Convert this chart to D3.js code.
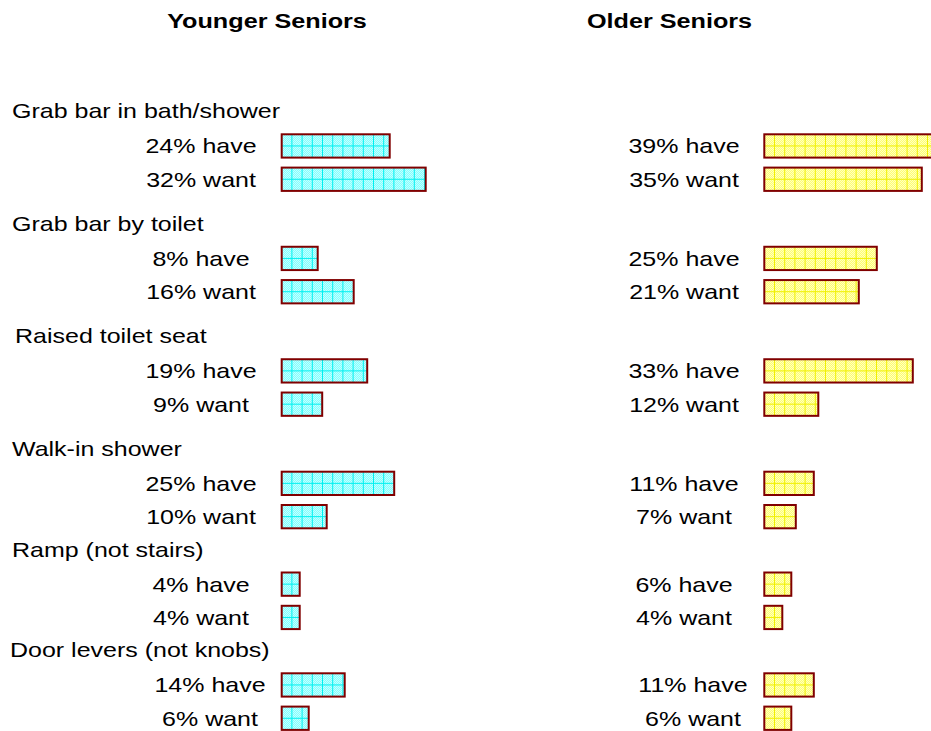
<!DOCTYPE html>
<html>
<head>
<meta charset="utf-8">
<script src="https://cdn.jsdelivr.net/npm/d3@7"></script>
<style>
  html, body { margin: 0; padding: 0; background: #fff; }
  svg { display: block; }
  text { font-family: "Liberation Sans", Arial, sans-serif; fill: #000; }
</style>
</head>
<body>
<svg id="chart" width="931" height="731"></svg>
<script>
// ---- data ----
const categories = [
  "Grab bar in bath/shower",
  "Grab bar by toilet",
  "Raised toilet seat",
  "Walk-in shower",
  "Ramp (not stairs)",
  "Door levers (not knobs)"
];
const panelTitles = ["Younger Seniors", "Older Seniors"];
const measures = ["have", "want"];
const youngerHave = [24, 8, 19, 25, 4, 14];
const youngerWant = [32, 16, 9, 10, 4, 6];
const olderHave   = [39, 25, 33, 11, 6, 11];
const olderWant   = [35, 21, 12, 7, 4, 6];

// ---- layout ----
const W = 931, H = 731;
const svg = d3.select("#chart");
svg.append("rect").attr("width", W).attr("height", H).attr("fill", "#fff");

const stretchLabel = 1.19, stretchTitle = 1.2;
const barH = 23.3, rowStep = 33.3, gridStep = 10.2;
const catIndent = [12, 12, 15, 12, 12, 10];

// group vertical positions (piecewise: first four groups spaced wider)
const yGroup = d3.scaleLinear().domain([0, 3, 5]).range([134.3, 471.7, 673.3]);
// bar length per percent
const xLen = d3.scaleLinear().domain([0, 10]).range([0, 45]);

const panels = [
  { title: panelTitles[0], titleX: 267, barX: 281.7, labelX: 201,
    series: [youngerHave, youngerWant],
    fill: "url(#ditherCyan)", grid: "#00f0f0" },
  { title: panelTitles[1], titleX: 669.5, barX: 764.3, labelX: 684,
    series: [olderHave, olderWant],
    fill: "url(#ditherYellow)", grid: "#f0f000" }
];

// patterns
const defs = svg.append("defs");
function dither(id, base, light) {
  const p = defs.append("pattern").attr("id", id)
    .attr("patternUnits", "userSpaceOnUse").attr("width", 2).attr("height", 2);
  p.append("rect").attr("width", 2).attr("height", 2).attr("fill", base);
  p.append("rect").attr("width", 1).attr("height", 1).attr("fill", light);
  p.append("rect").attr("x", 1).attr("y", 1).attr("width", 1).attr("height", 1).attr("fill", light);
}
dither("ditherCyan", "#80ffff", "#c4ffff");
dither("ditherYellow", "#ffff70", "#ffffc0");

// titles
panels.forEach(p => {
  svg.append("text")
    .attr("transform", `translate(${p.titleX},28) scale(${stretchTitle},1)`)
    .attr("text-anchor", "middle")
    .attr("font-weight", "bold")
    .attr("font-size", 21)
    .text(p.title);
});

// group labels
svg.selectAll("text.cat").data(categories).join("text")
  .attr("class", "cat")
  .attr("transform", (d, i) => `translate(${catIndent[i]},${yGroup(i) - 16}) scale(${stretchLabel},1)`)
  .attr("font-size", 21)
  .text(d => d);

// bars and value labels
panels.forEach(p => {
  p.series.forEach((vals, m) => {
    vals.forEach((v, i) => {
      const y0 = yGroup(i) + m * rowStep;
      const w = xLen(v);
      const g = svg.append("g");
      g.append("rect").attr("x", p.barX).attr("y", y0)
        .attr("width", w).attr("height", barH).attr("fill", p.fill);
      // grid lines
      d3.range(gridStep, w - 1, gridStep).forEach(dx => {
        g.append("line")
          .attr("x1", p.barX + dx).attr("x2", p.barX + dx)
          .attr("y1", y0).attr("y2", y0 + barH)
          .attr("stroke", p.grid).attr("stroke-width", 1);
      });
      g.append("line")
        .attr("x1", p.barX).attr("x2", p.barX + w)
        .attr("y1", y0 + barH / 2).attr("y2", y0 + barH / 2)
        .attr("stroke", p.grid).attr("stroke-width", 1);
      g.append("rect").attr("x", p.barX).attr("y", y0)
        .attr("width", w).attr("height", barH)
        .attr("fill", "none").attr("stroke", "#800000").attr("stroke-width", 2);

      const shift = i === categories.length - 1 ? 9 : 0;
      svg.append("text")
        .attr("transform", `translate(${p.labelX + shift},${y0 + 19}) scale(${stretchLabel},1)`)
        .attr("text-anchor", "middle")
        .attr("font-size", 21)
        .text(`${v}% ${measures[m]}`);
    });
  });
});
</script>
</body>
</html>
